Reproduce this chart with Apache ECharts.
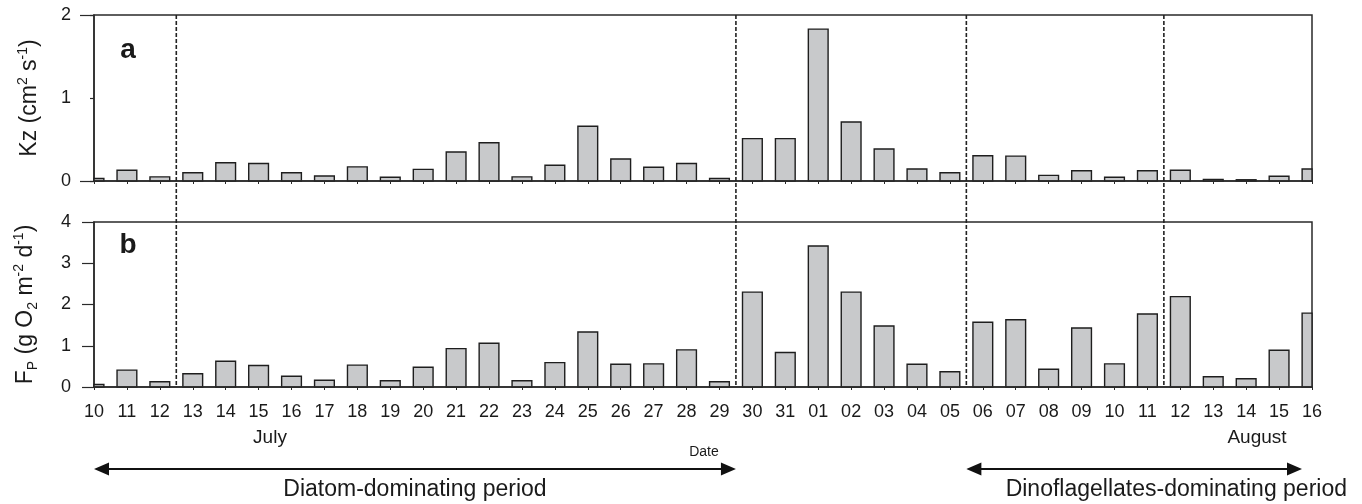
<!DOCTYPE html>
<html>
<head>
<meta charset="utf-8">
<script src="https://cdn.jsdelivr.net/npm/echarts@6/dist/echarts.min.js"></script>
<style>
html,body{margin:0;padding:0;background:#fff;}
#chart{width:1362px;height:504px;}
</style>
</head>
<body>
<div id="chart"></div>
<script>
// ---- data ----
const dates = ['10','11','12','13','14','15','16','17','18','19','20','21','22','23','24','25','26','27','28','29','30','31',
               '01','02','03','04','05','06','07','08','09','10','11','12','13','14','15','16'];
const kz = [0.03,0.13,0.05,0.10,0.22,0.21,0.10,0.06,0.17,0.045,0.14,0.35,0.46,0.05,0.19,0.66,0.265,0.165,0.21,0.03,0.51,0.51,
            1.83,0.71,0.385,0.145,0.10,0.305,0.30,0.068,0.124,0.045,0.124,0.13,0.02,0.015,0.057,0.145];
const fp = [0.06,0.41,0.126,0.32,0.625,0.52,0.26,0.165,0.53,0.15,0.48,0.93,1.06,0.15,0.59,1.335,0.55,0.56,0.90,0.126,2.30,0.835,
            3.42,2.30,1.48,0.55,0.37,1.57,1.63,0.43,1.43,0.56,1.77,2.19,0.25,0.20,0.89,1.79];
// period boundaries: dashed line between index i and i+1
const boundaries = [2, 19, 26, 32];
const monthLabels = ['July', 'August'];
const periodLabels = ['Diatom-dominating period', 'Dinoflagellates-dominating period'];

const FONT = '"Liberation Sans", Arial, Helvetica, sans-serif';
const INK = '#1a1a1a';
const LINE = '#2a2a2a';

const chart = echarts.init(document.getElementById('chart'), null, {renderer: 'canvas'});

const richName = {
  n:   {fontSize: 23, fontFamily: FONT, color: INK, lineHeight: 28, verticalAlign: 'middle'},
  sup: {fontSize: 14, fontFamily: FONT, color: INK, lineHeight: 14, verticalAlign: 'top'},
  sub: {fontSize: 14, fontFamily: FONT, color: INK, lineHeight: 13, verticalAlign: 'bottom'}
};

// bars drawn through the axes and clipped to the plot frame (edge bars are half hidden)
function renderBar(params, api) {
  const i = api.value(0), v = api.value(1);
  const base = api.coord([i, 0]);
  const top = api.coord([i, v]);
  const w = api.size([1, 0])[0] * 0.6;
  const cs = params.coordSys;
  const rect = echarts.graphic.clipRectByRect(
    {x: base[0] - w / 2, y: top[1], width: w, height: base[1] - top[1]},
    {x: cs.x, y: cs.y, width: cs.width, height: cs.height});
  return rect && {type: 'rect', shape: rect,
    style: {fill: '#c8c9cb', stroke: '#1e1e1e', lineWidth: 1.4}};
}

function xAxisCfg(gridIndex, showLabel) {
  return {
    type: 'value', gridIndex, min: 0, max: dates.length - 1, interval: 1,
    axisLine: {show: true, onZero: false, lineStyle: {color: LINE, width: 1.5}},
    axisTick: {show: true, inside: false, length: 3, lineStyle: {color: LINE, width: 1}},
    axisLabel: {show: showLabel, fontSize: 18, fontFamily: FONT, color: INK, margin: 16,
                showMinLabel: true, showMaxLabel: true,
                formatter: v => dates[Math.round(v)] || ''},
    splitLine: {show: false}, z: 5
  };
}

const option = {
  animation: false,
  backgroundColor: '#fff',
  grid: [
    {left: 94, top: 15, width: 1218, height: 166, show: true, borderColor: LINE, borderWidth: 1.5, backgroundColor: 'transparent'},
    {left: 94, top: 222, width: 1218, height: 165, show: true, borderColor: LINE, borderWidth: 1.5, backgroundColor: 'transparent'}
  ],
  xAxis: [xAxisCfg(0, false), xAxisCfg(1, true)],
  yAxis: [
    {
      type: 'value', gridIndex: 0, position: 'left', min: 0, max: 2, interval: 1,
      name: '{n|Kz (cm}{sup|2}{n| s}{sup|-1}{n|)}',
      nameLocation: 'middle', nameRotate: 90, nameGap: 50,
      nameTextStyle: {rich: richName},
      axisLine: {show: true, lineStyle: {color: LINE, width: 1.5}},
      axisTick: {show: true, inside: false, length: 4, lineStyle: {color: LINE, width: 1.2}},
      axisLabel: {fontSize: 18, fontFamily: FONT, color: INK, margin: 23},
      splitLine: {show: false}
    },
    {
      type: 'value', gridIndex: 1, position: 'left', min: 0, max: 4, interval: 1,
      name: '{n|F}{sub|P}{n| (g O}{sub|2}{n| m}{sup|-2}{n| d}{sup|-1}{n|)}',
      nameLocation: 'middle', nameRotate: 90, nameGap: 54,
      nameTextStyle: {rich: richName},
      axisLine: {show: true, lineStyle: {color: LINE, width: 1.5}},
      axisTick: {show: true, inside: false, length: 12, lineStyle: {color: LINE, width: 1.2}},
      axisLabel: {fontSize: 18, fontFamily: FONT, color: INK, margin: 23},
      splitLine: {show: false}
    },
    {
      // longer end ticks of panel a (at 0 and 2)
      type: 'value', gridIndex: 0, position: 'left', offset: 0, min: 0, max: 2, interval: 2,
      axisLine: {show: false}, axisLabel: {show: false}, splitLine: {show: false},
      axisTick: {show: true, inside: false, length: 14, lineStyle: {color: LINE, width: 1.2}}
    }
  ],
  series: [
    {type: 'custom', xAxisIndex: 0, yAxisIndex: 0, data: kz.map((v, i) => [i, v]),
     renderItem: renderBar, encode: {x: 0, y: 1}, z: 2},
    {type: 'custom', xAxisIndex: 1, yAxisIndex: 1, data: fp.map((v, i) => [i, v]),
     renderItem: renderBar, encode: {x: 0, y: 1}, z: 2}
  ]
};
chart.setOption(option);

// ---- annotations positioned from the axes ----
const px = i => chart.convertToPixel({xAxisIndex: 0}, i);
const yTop = chart.convertToPixel({yAxisIndex: 0}, 2);
const yBot = chart.convertToPixel({yAxisIndex: 1}, 0);
const bx = boundaries.map(i => (px(i) + px(i + 1)) / 2);

const g = [];
bx.forEach(x => {
  g.push({type: 'line', shape: {x1: x, y1: yTop, x2: x, y2: yBot},
          style: {stroke: '#222', lineWidth: 1.6, lineDash: [4, 2]}, z: 10});
});

function arrow(x1, x2, y) {
  const hl = 15, hh = 6.5;
  g.push({type: 'line', shape: {x1: x1 + hl - 2, y1: y, x2: x2 - hl + 2, y2: y}, style: {stroke: '#111', lineWidth: 2}});
  g.push({type: 'polygon', shape: {points: [[x1, y], [x1 + hl, y - hh], [x1 + hl, y + hh]]}, style: {fill: '#111'}});
  g.push({type: 'polygon', shape: {points: [[x2, y], [x2 - hl, y - hh], [x2 - hl, y + hh]]}, style: {fill: '#111'}});
}
const arrowY = 469;
arrow(px(0), bx[1], arrowY);
arrow(bx[2], px(dates.length - 1) - 10, arrowY);

function text(str, x, y, size, align, weight) {
  g.push({type: 'text', x, y, style: {text: str, fontSize: size, fontFamily: FONT, fill: INK,
          align: align || 'center', verticalAlign: 'middle', fontWeight: weight || 'normal'}, z: 10});
}
text(monthLabels[0], 270, 438, 19);
text(monthLabels[1], 1257, 438, 19);
text('Date', 704, 452, 14);
text(periodLabels[0], (px(0) + bx[1]) / 2, 490, 23);
text(periodLabels[1], 1347, 490, 23, 'right');
text('a', 128, 50, 28, 'center', 'bold');
text('b', 128, 245, 28, 'center', 'bold');

chart.setOption({graphic: g});
</script>
</body>
</html>
